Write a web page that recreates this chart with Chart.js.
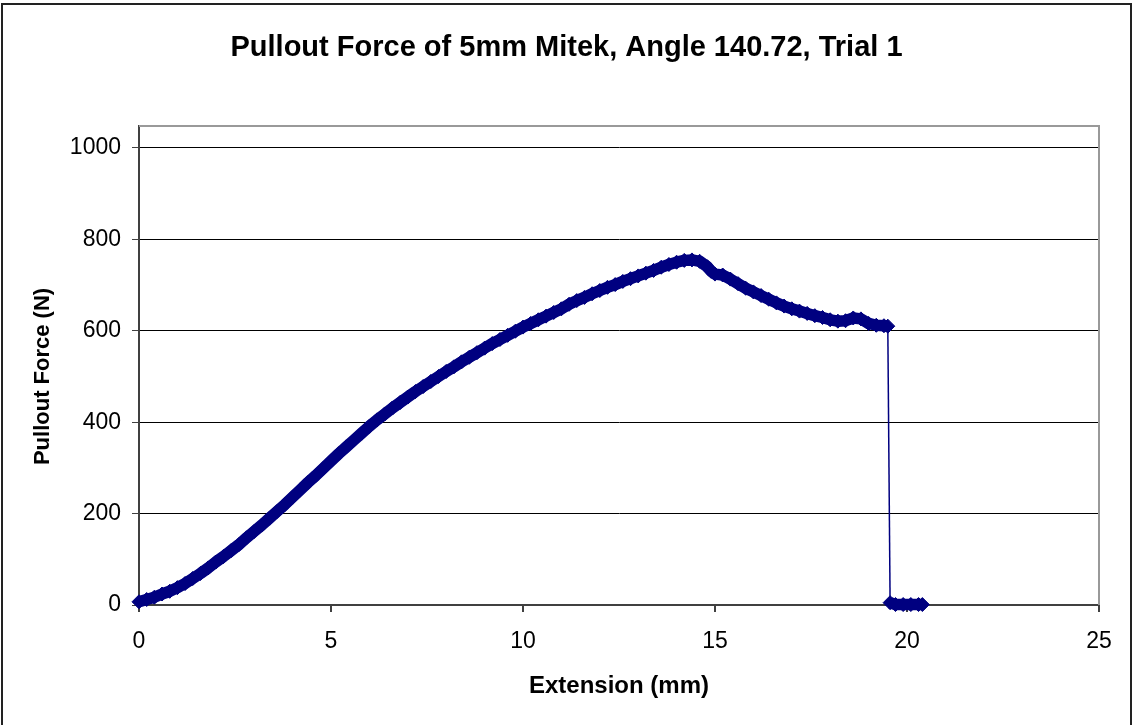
<!DOCTYPE html>
<html>
<head>
<meta charset="utf-8">
<title>Pullout Force</title>
<script src="https://cdn.jsdelivr.net/npm/chart.js@4.4.1/dist/chart.umd.min.js"></script>
<style>
  html, body { margin: 0; padding: 0; background: #fff; }
  #wrap { width: 1133px; height: 725px; }
</style>
</head>
<body>
<div id="wrap"><canvas id="pullout" width="1133" height="725"></canvas></div>
<script>
// extension (mm) and pullout force (N), one entry per recorded point
const extensionMm = [0, 0.2, 0.4, 0.6, 0.8, 1.0, 1.2, 1.4, 1.6, 1.8,
  2.0, 2.2, 2.4, 2.6, 2.8, 3.0, 3.2, 3.4, 3.6, 3.8,
  4.0, 4.2, 4.4, 4.6, 4.8, 5.0, 5.2, 5.4, 5.6, 5.8,
  6.0, 6.2, 6.4, 6.6, 6.8, 7.0, 7.2, 7.4, 7.6, 7.8,
  8.0, 8.2, 8.4, 8.6, 8.8, 9.0, 9.2, 9.4, 9.6, 9.8,
  10.0, 10.2, 10.4, 10.6, 10.8, 11.0, 11.2, 11.4, 11.6, 11.8,
  12.0, 12.2, 12.4, 12.6, 12.8, 13.0, 13.2, 13.4, 13.6, 13.8,
  14.0, 14.2, 14.4, 14.6, 14.8, 14.9, 15.0, 15.2, 15.4, 15.6, 15.8,
  16.0, 16.2, 16.4, 16.6, 16.8, 17.0, 17.2, 17.4, 17.6, 17.8,
  18.0, 18.2, 18.4, 18.6, 18.8, 19.0, 19.2, 19.4, 19.5,
  19.56, 19.7, 19.9, 20.1, 20.3, 20.4];

const forceN = [7, 12, 17, 24, 30, 38, 47, 58, 69, 81,
  94, 106, 119, 132, 147, 161, 175, 190, 205, 220,
  236, 252, 268, 283, 299, 315, 331, 346, 361, 376,
  391, 405, 418, 431, 443, 455, 467, 478, 489, 500,
  511, 521, 532, 542, 552, 562, 572, 581, 590, 599,
  608, 616, 624, 632, 640, 648, 658, 666, 673, 681,
  688, 695, 701, 708, 714, 720, 726, 732, 739, 745,
  750, 754, 755, 752, 740, 730, 724, 722, 713, 703, 693,
  685, 677, 669, 661, 654, 648, 643, 638, 633, 629,
  624, 621, 622, 628, 626, 616, 612, 611, 610,
  5, 1, 1, 1, 1, 1];

const xTicks = [0, 5, 10, 15, 20, 25];
const yTicks = [0, 200, 400, 600, 800, 1000];

const chartTitle = 'Pullout Force of 5mm Mitek, Angle 140.72, Trial 1';
const xTitle = 'Extension (mm)';
const yTitle = 'Pullout Force (N)';

const FONT = "'Liberation Sans', Arial, sans-serif";
const NAVY = '#000080';
const AXIS = '#404040';

let points = [];
for (let i = 0; i < extensionMm.length; i++) {
  points.push({ x: extensionMm[i], y: forceN[i] });
}

// white page, outer frame, plot frame, title and the two axis titles
const frame = {
  id: 'frame',
  beforeDraw(chart) {
    const ctx = chart.ctx;
    ctx.save();
    ctx.fillStyle = '#fff';
    ctx.fillRect(0, 0, chart.width, chart.height);
    ctx.strokeStyle = '#222';
    ctx.lineWidth = 2;
    ctx.strokeRect(2, 4, chart.width - 4, chart.height + 10);
    ctx.fillStyle = '#000';
    ctx.font = 'bold 29px ' + FONT;
    ctx.textAlign = 'center';
    ctx.textBaseline = 'middle';
    ctx.fillText(chartTitle, chart.width / 2, 48);
    ctx.restore();
  },
  beforeDatasetsDraw(chart) {
    const ctx = chart.ctx;
    const a = chart.chartArea;
    ctx.save();
    ctx.strokeStyle = '#999';
    ctx.lineWidth = 2;
    ctx.beginPath();
    ctx.moveTo(a.left, a.top);
    ctx.lineTo(a.right, a.top);
    ctx.lineTo(a.right, a.bottom);
    ctx.stroke();
    ctx.restore();
  },
  afterDraw(chart) {
    const ctx = chart.ctx;
    const x = chart.scales.x, y = chart.scales.y;
    ctx.save();
    ctx.fillStyle = '#000';
    ctx.textAlign = 'center';
    ctx.textBaseline = 'middle';
    ctx.font = 'bold 24px ' + FONT;
    ctx.fillText(xTitle, x.getPixelForValue(12.5), 686);
    ctx.font = 'bold 22px ' + FONT;
    ctx.translate(43, y.getPixelForValue(500));
    ctx.rotate(-Math.PI / 2);
    ctx.fillText(yTitle, 0, 0);
    ctx.restore();
  }
};

new Chart(document.getElementById('pullout'), {
  type: 'scatter',
  data: {
    datasets: [{
      data: points,
      showLine: true,
      borderColor: NAVY,
      backgroundColor: NAVY,
      // the recorded points sit so close that they merge into a thick band;
      // only the jump down at failure is a thin line
      segment: {
        borderWidth: c => Math.abs(c.p1.parsed.y - c.p0.parsed.y) > 100 ? 1.5 : 11.5
      },
      borderJoinStyle: 'round',
      pointStyle: 'rectRot',
      pointRadius: 7,
      pointBorderWidth: 1,
      pointBorderColor: NAVY,
      pointBackgroundColor: NAVY,
      tension: 0,
      clip: 10
    }]
  },
  options: {
    responsive: false,
    animation: false,
    devicePixelRatio: 1,
    events: [],
    layout: { padding: { top: 126, right: 34, bottom: 0, left: 0 } },
    plugins: {
      legend: { display: false },
      tooltip: { enabled: false },
      title: { display: false }
    },
    scales: {
      x: {
        type: 'linear',
        min: xTicks[0],
        max: xTicks[xTicks.length - 1],
        afterBuildTicks(s) { s.ticks = xTicks.map(v => ({ value: v })); },
        afterFit(s) { s.height = 120; },
        ticks: { color: '#000', font: { family: FONT, size: 23 }, padding: 16, maxRotation: 0,
          callback: v => String(v) },
        grid: { drawOnChartArea: false, tickLength: 7, tickColor: AXIS, lineWidth: 2 },
        border: { color: AXIS, width: 2 }
      },
      y: {
        type: 'linear',
        min: 0,
        max: 1048,
        afterBuildTicks(s) { s.ticks = yTicks.map(v => ({ value: v })); },
        afterFit(s) { s.width = 139; },
        ticks: { color: '#000', font: { family: FONT, size: 23 }, padding: 11,
          callback: v => String(v) },
        grid: { color: '#000', lineWidth: 1, tickLength: 7, tickColor: AXIS },
        border: { color: AXIS, width: 2 }
      }
    }
  },
  plugins: [frame]
});
</script>
</body>
</html>
